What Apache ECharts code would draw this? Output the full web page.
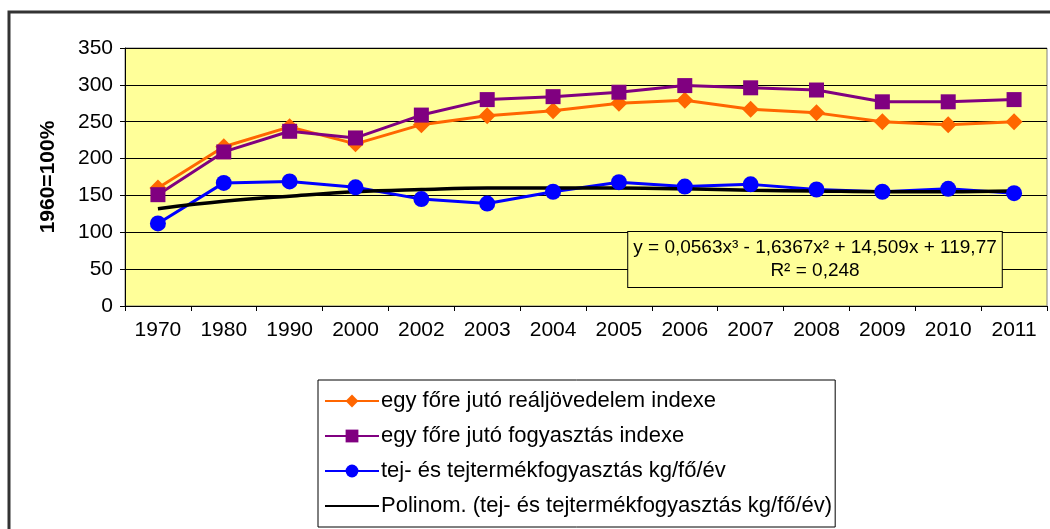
<!DOCTYPE html>
<html>
<head>
<meta charset="utf-8">
<script src="https://cdn.jsdelivr.net/npm/echarts@6/dist/echarts.min.js"></script>
<style>
  html, body { margin: 0; padding: 0; background: #fff; }
  #chart { width: 1050px; height: 529px; }
</style>
</head>
<body>
<div id="chart"></div>
<script>
// chart data
var years = ['1970', '1980', '1990', '2000', '2002', '2003', '2004', '2005', '2006', '2007', '2008', '2009', '2010', '2011']
var realIncome = [160, 216, 243, 220, 246, 258, 265, 275, 279, 267, 262, 250, 246, 250]
var consumption = [151, 209, 237, 228, 259, 280, 284, 290, 299, 296, 293, 277, 277, 280]
var milk = [112, 167, 169, 161, 145, 139, 155, 168, 162, 165, 158, 155, 159, 153]
var milkTrend = [132, 142, 149, 155, 158, 160, 160, 160, 159, 157, 156, 155, 155, 156]
var yTicks = [0, 50, 100, 150, 200, 250, 300, 350]

var names = [
  'egy főre jutó reáljövedelem indexe',
  'egy főre jutó fogyasztás indexe',
  'tej- és tejtermékfogyasztás kg/fő/év',
  'Polinom. (tej- és tejtermékfogyasztás kg/fő/év)'
]

var font = 'Arial, "Liberation Sans", sans-serif'
var chart = echarts.init(document.getElementById('chart'))

chart.setOption({
  animation: false,
  backgroundColor: '#fff',
  textStyle: { fontFamily: font },
  grid: {
    left: 125,
    right: 3,
    top: 48,
    bottom: 223,
    show: true,
    backgroundColor: '#FFFF99',
    borderColor: '#808080',
    borderWidth: 1
  },
  legend: {
    orient: 'vertical',
    left: 318,
    top: 380,
    data: [
      { name: names[0] },
      { name: names[1] },
      { name: names[2] },
      { name: names[3], itemStyle: { opacity: 0 } }
    ],
    itemWidth: 54,
    itemHeight: 16,
    itemGap: 13,
    padding: [10, 3, 10, 6],
    borderColor: '#000',
    borderWidth: 1,
    backgroundColor: '#fff',
    textStyle: { fontSize: 22, color: '#000', fontFamily: font, padding: [0, 0, 0, -3] }
  },
  xAxis: {
    type: 'category',
    data: years,
    boundaryGap: true,
    axisLine: { lineStyle: { color: '#000', width: 1 } },
    axisTick: { show: true, length: 5, lineStyle: { color: '#000' } },
    axisLabel: { fontSize: 21, color: '#000', margin: 14 }
  },
  yAxis: {
    type: 'value',
    min: yTicks[0],
    max: yTicks[yTicks.length - 1],
    interval: 50,
    name: '1960=100%',
    nameLocation: 'middle',
    nameRotate: 90,
    nameGap: 66,
    nameTextStyle: { fontSize: 21, fontWeight: 'bold', color: '#000' },
    axisLine: { show: true, lineStyle: { color: '#000' } },
    axisTick: { show: true, length: 5, lineStyle: { color: '#000' } },
    axisLabel: { fontSize: 21, color: '#000', margin: 12 },
    splitLine: { lineStyle: { color: '#000', width: 1 } }
  },
  graphic: [
    {
      type: 'rect',
      z: -1,
      shape: { x: 9, y: 12, width: 1200, height: 700 },
      style: { fill: 'none', stroke: '#333', lineWidth: 3 }
    },
    {
      type: 'text',
      x: 815,
      y: 232,
      z: 100,
      style: {
        text: 'y = 0,0563x³ - 1,6367x² + 14,509x + 119,77\nR² = 0,248',
        align: 'center',
        verticalAlign: 'top',
        font: '19px ' + font,
        fill: '#000',
        lineHeight: 23,
        backgroundColor: '#FFFF99',
        borderColor: '#000',
        borderWidth: 1,
        padding: [4, 5, 5, 5]
      }
    }
  ],
  series: [
    {
      name: names[0],
      type: 'line',
      data: realIncome,
      symbol: 'diamond',
      symbolSize: 17,
      itemStyle: { color: '#FF6600' },
      lineStyle: { color: '#FF6600', width: 3 }
    },
    {
      name: names[1],
      type: 'line',
      data: consumption,
      symbol: 'rect',
      symbolSize: 15,
      itemStyle: { color: '#800080' },
      lineStyle: { color: '#800080', width: 3 }
    },
    {
      name: names[2],
      type: 'line',
      data: milk,
      symbol: 'circle',
      symbolSize: 16,
      itemStyle: { color: '#0000FF' },
      lineStyle: { color: '#0000FF', width: 3 }
    },
    {
      name: names[3],
      type: 'line',
      data: milkTrend,
      symbol: 'none',
      smooth: 0.4,
      lineStyle: { color: '#000', width: 3.5 },
      itemStyle: { color: '#000' }
    }
  ]
})
</script>
</body>
</html>
